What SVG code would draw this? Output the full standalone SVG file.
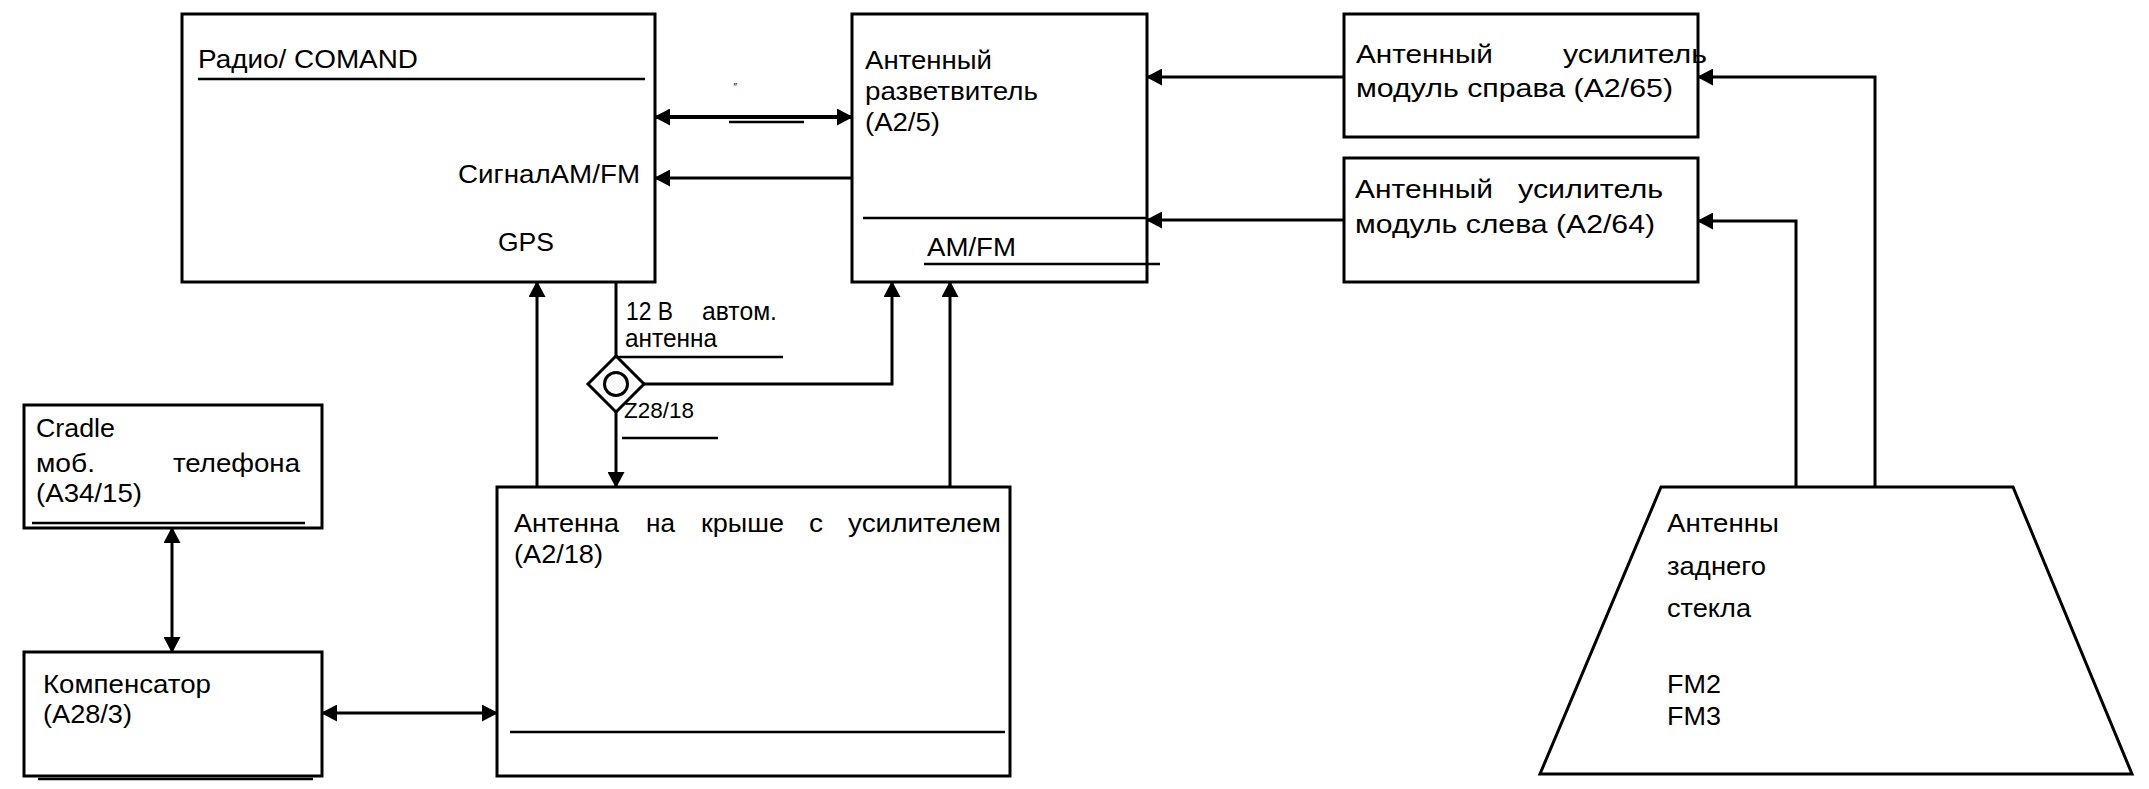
<svg xmlns="http://www.w3.org/2000/svg" width="2149" height="789" viewBox="0 0 2149 789">
<style>
.b{fill:none;stroke:#000;stroke-width:3}
.c{fill:none;stroke:#000;stroke-width:3}
.u{fill:none;stroke:#000;stroke-width:2.5}
.t{font-family:"Liberation Sans",Arial,sans-serif;font-size:26px;fill:#000}
.s{font-size:22px}
</style>
<defs>
<marker id="ah" markerUnits="userSpaceOnUse" markerWidth="16" markerHeight="17" refX="15" refY="8.5" orient="auto-start-reverse" viewBox="0 0 16 17">
<path d="M0,0 L16,8.5 L0,17 z" fill="#000"/>
</marker>
</defs>
<rect width="2149" height="789" fill="#fff"/>

<g id="radio">
<rect class="b" x="182" y="14" width="473" height="268"/>
<text class="t" x="198" y="68" textLength="220" lengthAdjust="spacingAndGlyphs">Радио/ COMAND</text>
<line class="u" x1="198" y1="79" x2="645" y2="79"/>
<text class="t" x="458" y="183" textLength="182" lengthAdjust="spacingAndGlyphs">СигналАМ/FM</text>
<text class="t" x="498" y="251" textLength="56" lengthAdjust="spacingAndGlyphs">GPS</text>
</g>

<g id="splitter">
<rect class="b" x="852" y="14" width="295" height="268"/>
<text class="t" x="865" y="69" textLength="127" lengthAdjust="spacingAndGlyphs">Антенный</text>
<text class="t" x="865" y="100" textLength="173" lengthAdjust="spacingAndGlyphs">разветвитель</text>
<text class="t" x="865" y="131" textLength="75" lengthAdjust="spacingAndGlyphs">(A2/5)</text>
<line class="u" x1="863" y1="218" x2="1147" y2="218"/>
<text class="t" x="927" y="256" textLength="89" lengthAdjust="spacingAndGlyphs">AM/FM</text>
<line class="u" x1="924" y1="264" x2="1160" y2="264"/>
</g>

<g id="amp-right">
<rect class="b" x="1344" y="14" width="354" height="123"/>
<text class="t"><tspan x="1356" y="63" textLength="137" lengthAdjust="spacingAndGlyphs">Антенный</tspan><tspan x="1563" y="63" textLength="144" lengthAdjust="spacingAndGlyphs">усилитель</tspan></text>
<text class="t" x="1356" y="97" textLength="317" lengthAdjust="spacingAndGlyphs">модуль справа (A2/65)</text>
</g>

<g id="amp-left">
<rect class="b" x="1344" y="158" width="354" height="124"/>
<text class="t"><tspan x="1355" y="198" textLength="138" lengthAdjust="spacingAndGlyphs">Антенный</tspan><tspan x="1518" y="198" textLength="145" lengthAdjust="spacingAndGlyphs">усилитель</tspan></text>
<text class="t" x="1355" y="233" textLength="300" lengthAdjust="spacingAndGlyphs">модуль слева (A2/64)</text>
</g>

<g id="roof-antenna">
<rect class="b" x="497" y="487" width="513" height="289"/>
<text class="t"><tspan x="514" y="532" textLength="105" lengthAdjust="spacingAndGlyphs">Антенна</tspan><tspan x="646" y="532" textLength="29" lengthAdjust="spacingAndGlyphs">на</tspan><tspan x="701" y="532" textLength="83" lengthAdjust="spacingAndGlyphs">крыше</tspan><tspan x="809" y="532" textLength="14" lengthAdjust="spacingAndGlyphs">с</tspan><tspan x="848" y="532" textLength="153" lengthAdjust="spacingAndGlyphs">усилителем</tspan></text>
<text class="t" x="514" y="563" textLength="89" lengthAdjust="spacingAndGlyphs">(A2/18)</text>
<line class="u" x1="510" y1="732" x2="1005" y2="732"/>
</g>

<g id="cradle">
<rect class="b" x="24" y="405" width="298" height="123"/>
<text class="t" x="36" y="437" textLength="79" lengthAdjust="spacingAndGlyphs">Cradle</text>
<text class="t"><tspan x="36" y="472" textLength="59" lengthAdjust="spacingAndGlyphs">моб.</tspan><tspan x="173" y="472" textLength="127" lengthAdjust="spacingAndGlyphs">телефона</tspan></text>
<text class="t" x="36" y="502" textLength="106" lengthAdjust="spacingAndGlyphs">(A34/15)</text>
<line class="u" x1="32" y1="523" x2="305" y2="523"/>
</g>

<g id="compensator">
<rect class="b" x="24" y="652" width="298" height="124"/>
<text class="t" x="43" y="693" textLength="168" lengthAdjust="spacingAndGlyphs">Компенсатор</text>
<text class="t" x="43" y="723" textLength="89" lengthAdjust="spacingAndGlyphs">(A28/3)</text>
<line class="u" x1="38" y1="779" x2="313" y2="779"/>
</g>

<g id="rear-antennas">
<polygon class="b" points="1661,487 2013,487 2132,774 1540,774"/>
<text class="t" x="1667" y="532" textLength="112" lengthAdjust="spacingAndGlyphs">Антенны</text>
<text class="t" x="1667" y="575" textLength="99" lengthAdjust="spacingAndGlyphs">заднего</text>
<text class="t" x="1667" y="617" textLength="84" lengthAdjust="spacingAndGlyphs">стекла</text>
<text class="t" x="1667" y="693" textLength="54" lengthAdjust="spacingAndGlyphs">FM2</text>
<text class="t" x="1667" y="725" textLength="54" lengthAdjust="spacingAndGlyphs">FM3</text>
</g>

<g id="junction-z28">
<polygon class="b" points="616,356 644,384 616,412 588,384"/>
<circle class="b" cx="616" cy="384" r="11.5"/>
<text class="t s" x="624" y="418" textLength="70" lengthAdjust="spacingAndGlyphs">Z28/18</text>
<line class="u" x1="622" y1="438" x2="718" y2="438"/>
</g>

<g id="connectors">
<line class="c" x1="655" y1="117" x2="852" y2="117" style="stroke-width:4" marker-start="url(#ah)" marker-end="url(#ah)"/>
<line class="u" x1="729" y1="122" x2="804" y2="122"/>
<text class="t" x="733" y="91" style="font-size:10px;font-style:italic">″</text>
<line class="c" x1="852" y1="178" x2="655" y2="178" marker-end="url(#ah)"/>
<line class="c" x1="1344" y1="77" x2="1147" y2="77" marker-end="url(#ah)"/>
<line class="c" x1="1344" y1="220" x2="1147" y2="220" marker-end="url(#ah)"/>
<polyline class="c" points="1875,487 1875,77 1698,77" marker-end="url(#ah)"/>
<polyline class="c" points="1796,487 1796,221 1698,221" marker-end="url(#ah)"/>
<line class="c" x1="537" y1="487" x2="537" y2="282" marker-end="url(#ah)"/>
<line class="c" x1="616" y1="282" x2="616" y2="356"/>
<text class="t" x="626" y="320"><tspan x="626" textLength="47" lengthAdjust="spacingAndGlyphs">12 В</tspan><tspan x="702" textLength="75" lengthAdjust="spacingAndGlyphs">автом.</tspan></text>
<text class="t" x="625" y="347" textLength="92" lengthAdjust="spacingAndGlyphs">антенна</text>
<line class="u" x1="616" y1="357" x2="783" y2="357"/>
<line class="c" x1="616" y1="412" x2="616" y2="487" marker-end="url(#ah)"/>
<polyline class="c" points="644,384 892,384 892,282" marker-end="url(#ah)"/>
<line class="c" x1="950" y1="487" x2="950" y2="282" marker-end="url(#ah)"/>
<line class="c" x1="172" y1="528" x2="172" y2="652" marker-start="url(#ah)" marker-end="url(#ah)"/>
<line class="c" x1="322" y1="713" x2="497" y2="713" marker-start="url(#ah)" marker-end="url(#ah)"/>
</g>
</svg>
